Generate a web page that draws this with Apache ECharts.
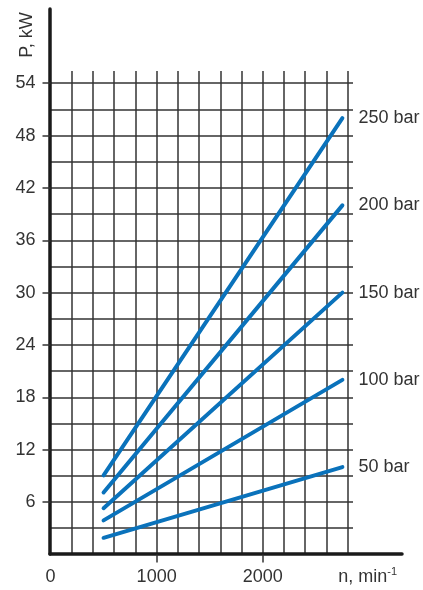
<!DOCTYPE html>
<html>
<head>
<meta charset="utf-8">
<script src="https://cdn.jsdelivr.net/npm/echarts@6/dist/echarts.min.js"></script>
<style>
    html, body { margin: 0; padding: 0; background: #fff; }
    #chart { width: 423px; height: 590px; }
</style>
</head>
<body>
<div id="chart"></div>
<script>
const rpm = [500, 2750]
const bar50 = [1.9, 10]
const bar100 = [3.9, 20]
const bar150 = [5.3, 30]
const bar200 = [7.1, 40]
const bar250 = [9.05, 50]
const seriesNames = ['50 bar', '100 bar', '150 bar', '200 bar', '250 bar']
const yTickLabels = [6, 12, 18, 24, 30, 36, 42, 48, 54]
const xTickLabels = [0, 1000, 2000]

const FONT = "'Liberation Sans', Arial, sans-serif"
const FONT_SIZE = 18
const TEXT = '#333'
const GRID_LINE = { color: '#333', width: 1.5 }
const AXIS_LINE = { color: '#1a1a1a', width: 3.5 }
const BLUE = '#0a72bb'

const chart = echarts.init(document.getElementById('chart'))

function makeSeries(name, values) {
    return {
        name,
        type: 'line',
        xAxisIndex: 1,
        yAxisIndex: 1,
        data: rpm.map((x, i) => [x, values[i]]),
        symbol: 'none',
        silent: true,
        lineStyle: { color: BLUE, width: 4, cap: 'round' },
        endLabel: {
            show: true,
            formatter: name,
            distance: 16,
            color: TEXT,
            fontSize: FONT_SIZE,
            fontFamily: FONT
        }
    }
}

chart.setOption({
    animation: false,
    grid: [
        { left: 50, right: 21, top: 9, bottom: 36 },
        { left: 50.5, right: 70, top: 71, bottom: 35.6 }
    ],
    xAxis: [
        {
            gridIndex: 0, type: 'value', min: 0, max: 1,
            axisLine: { show: true, lineStyle: AXIS_LINE },
            axisTick: { show: false }, axisLabel: { show: false }, splitLine: { show: false },
            name: '{a|n, min}{s|-1}',
            nameLocation: 'end',
            nameGap: -5,
            nameTextStyle: {
                align: 'right',
                verticalAlign: 'top',
                padding: [12, 0, 0, 0],
                rich: {
                    a: { fontSize: FONT_SIZE, fontFamily: FONT, color: TEXT, lineHeight: 22 },
                    s: { fontSize: 11, fontFamily: FONT, color: TEXT, verticalAlign: 'top', lineHeight: 22 }
                }
            }
        },
        {
            gridIndex: 1, type: 'value', position: 'bottom', min: 0, max: 2850, interval: 200,
            axisLine: { show: false }, axisTick: { show: false }, axisLabel: { show: false },
            splitLine: { show: true, showMinLine: false, showMaxLine: false, lineStyle: GRID_LINE }
        },
        {
            gridIndex: 1, type: 'value', position: 'bottom', min: 0, max: 2850,
            axisLine: { show: false },
            axisTick: { show: true, customValues: [1000, 2000], length: 8, lineStyle: GRID_LINE },
            axisLabel: {
                customValues: xTickLabels, formatter: v => String(v),
                margin: 14, fontSize: FONT_SIZE, fontFamily: FONT, color: TEXT
            },
            splitLine: { show: false }
        }
    ],
    yAxis: [
        {
            gridIndex: 0, type: 'value', min: 0, max: 1,
            axisLine: { show: true, lineStyle: AXIS_LINE },
            axisTick: { show: false }, axisLabel: { show: false }, splitLine: { show: false },
            name: 'P, kW',
            nameLocation: 'end',
            nameGap: -26,
            nameRotate: 90,
            nameTextStyle: {
                align: 'center',
                verticalAlign: 'bottom',
                padding: [0, 0, 14, 0],
                fontSize: FONT_SIZE,
                fontFamily: FONT,
                color: TEXT
            }
        },
        {
            gridIndex: 1, type: 'value', position: 'left', min: 0, max: 55.4, interval: 3,
            axisLine: { show: false }, axisTick: { show: false }, axisLabel: { show: false },
            splitLine: { show: true, showMinLine: false, showMaxLine: false, lineStyle: GRID_LINE }
        },
        {
            gridIndex: 1, type: 'value', position: 'left', min: 0, max: 55.4,
            axisLine: { show: false },
            axisTick: { show: true, customValues: yTickLabels, length: 8, lineStyle: GRID_LINE },
            axisLabel: {
                customValues: yTickLabels, formatter: v => String(v),
                margin: 15, fontSize: FONT_SIZE, fontFamily: FONT, color: TEXT
            },
            splitLine: { show: false }
        }
    ],
    series: [
        makeSeries(seriesNames[0], bar50),
        makeSeries(seriesNames[1], bar100),
        makeSeries(seriesNames[2], bar150),
        makeSeries(seriesNames[3], bar200),
        makeSeries(seriesNames[4], bar250)
    ]
})
</script>
</body>
</html>
